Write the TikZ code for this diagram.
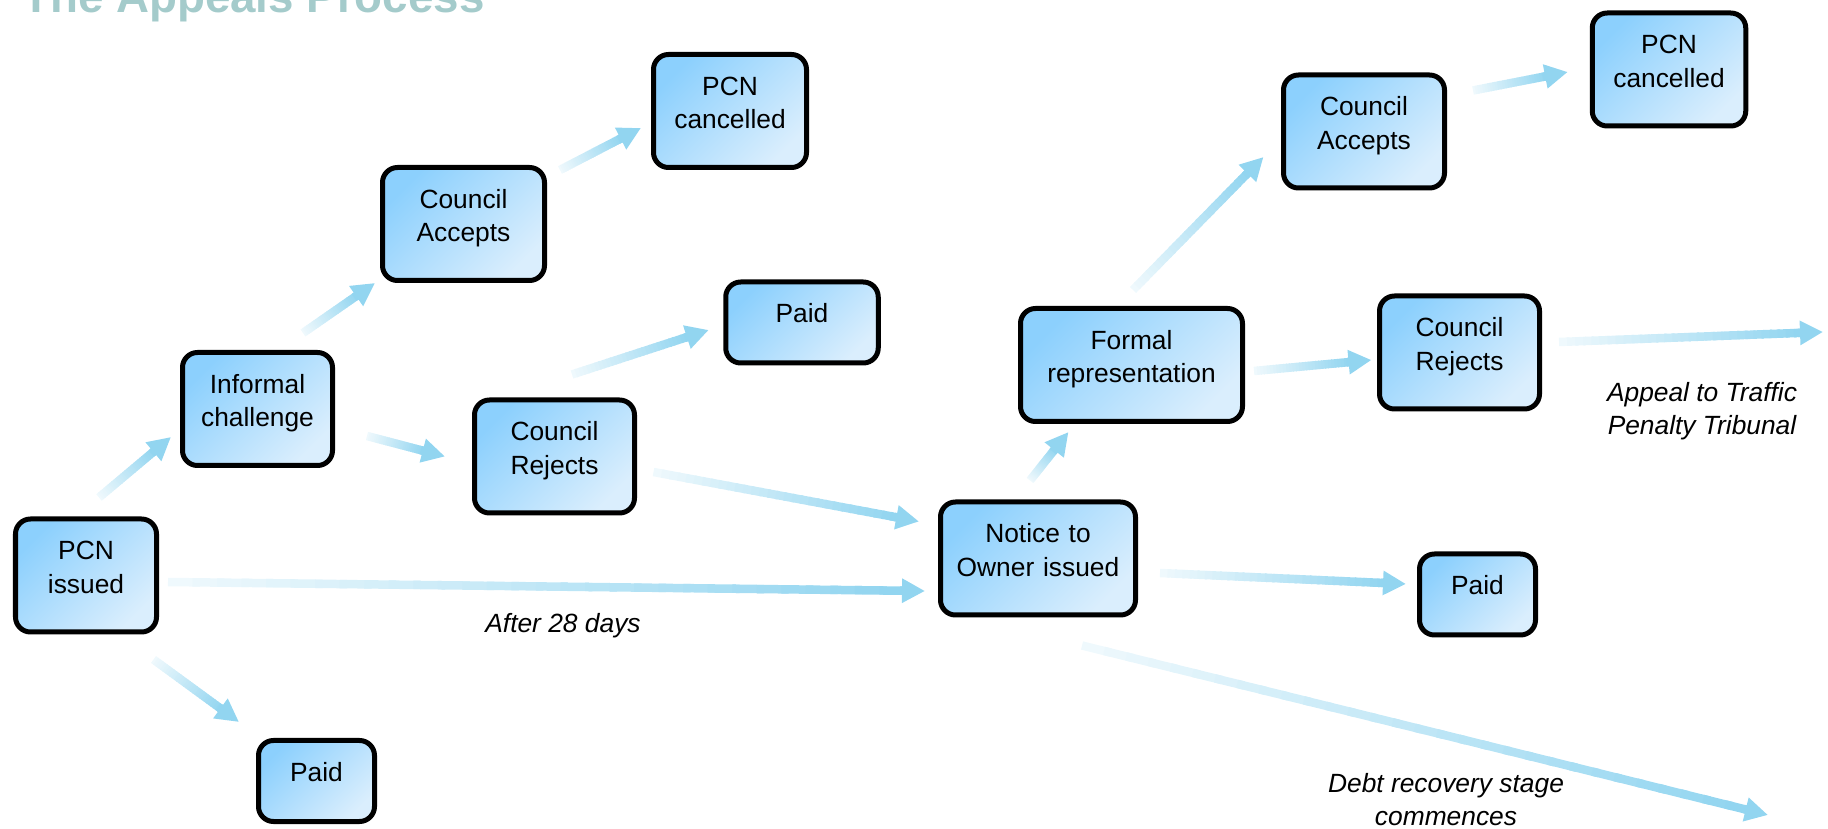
\documentclass[tikz,border=0pt]{standalone}
\usepackage{fontspec}
\setmainfont{Liberation Sans}
\usetikzlibrary{calc,arrows.meta}

\definecolor{boxdark}{RGB}{140,208,253}
\definecolor{boxlight}{RGB}{218,238,253}
\definecolor{arrowblue}{RGB}{146,213,240}
\definecolor{arrowpale}{RGB}{242,250,253}
\definecolor{titleteal}{RGB}{164,203,203}

\tikzset{
  stage/.style={draw, line width=0.1cm, rounded corners=0.3cm,
    top color=boxdark, bottom color=boxlight, shading angle=45,
    align=center, font=\fontsize{15}{18.8}\selectfont,
    inner xsep=0.1cm, inner ysep=0.44cm, text height=0.38cm, text depth=1cm},
  low/.style={text depth=0.36cm},
  note/.style={font=\fontsize{15}{18.8}\selectfont\itshape, align=center, inner sep=0},
  shaft/.style={line width=0.17cm},
}

% arrow that fades in from pale to blue
\newcommand{\fadearrow}[2]{%
  \coordinate (fa-s) at (#1);
  \coordinate (fa-e) at (#2);
  \coordinate (fa-b) at ($(fa-e)!0.42cm!(fa-s)$);
  \foreach \k in {1,...,30}{%
    \pgfmathsetmacro{\ta}{(\k-1)/30}%
    \pgfmathsetmacro{\tb}{min(\k/30+0.01,1)}%
    \pgfmathtruncatemacro{\mix}{round(100*\k/30)}%
    \draw[shaft, draw=arrowblue!\mix!arrowpale] ($(fa-s)!\ta!(fa-b)$) -- ($(fa-s)!\tb!(fa-b)$);
  }%
  \draw[shaft, draw=arrowblue, -{Triangle[length=0.46cm,width=0.46cm]}] ($(fa-e)!0.5cm!(fa-s)$) -- (fa-e);
}

\begin{document}
\begin{tikzpicture}
  \useasboundingbox (0,0) rectangle (36.56,-16.58);
  \clip (0,0) rectangle (36.56,-16.58);

  \node [anchor=base west, inner sep=0, text=titleteal, font=\fontsize{26}{30}\selectfont\bfseries] (heading) at (0.44,-0.26) {The Appeals Process};

  % first stage
  \node [stage, text width=2.62cm] (issued) at (1.72,-11.51) {PCN\\issued};
  \node [stage, low, text width=2.12cm] (paidA) at (6.33,-15.62) {Paid};
  \node [stage, text width=2.8cm] (informal) at (5.15,-8.18) {Informal\\challenge};
  \node [stage, text width=3.04cm] (acceptA) at (9.27,-4.48) {Council\\Accepts};
  \node [stage, text width=2.86cm] (cancelA) at (14.6,-2.22) {PCN\\cancelled};
  \node [stage, low, text width=2.85cm] (paidB) at (16.04,-6.45) {Paid};
  \node [stage, text width=3.0cm] (rejectA) at (11.09,-9.13) {Council\\Rejects};

  % second stage
  \node [stage, text width=3.7cm] (notice) at (20.76,-11.17) {Notice to\\Owner issued};
  \node [stage, text width=4.24cm] (formal) at (22.63,-7.3) {Formal\\representation};
  \node [stage, text width=3.02cm] (acceptB) at (27.28,-2.63) {Council\\Accepts};
  \node [stage, text width=2.87cm] (cancelB) at (33.38,-1.39) {PCN\\cancelled};
  \node [stage, text width=3.0cm] (rejectB) at (29.19,-7.05) {Council\\Rejects};
  \node [stage, low, text width=2.12cm] (paidC) at (29.55,-11.89) {Paid};

  \node [note, anchor=base] (wait) at (11.26,-12.66) {After 28 days};
  \node [note, anchor=north] (appeal) at (34.04,-7.65) {Appeal to Traffic\\Penalty Tribunal};
  \node [note, anchor=north] (recovery) at (28.92,-15.47) {Debt recovery stage\\commences};

  \coordinate (tptend) at (36.46,-6.64);
  \coordinate (debtend) at (35.36,-16.3);

  \fadearrow{[xshift=0.26cm,yshift=0.38cm]issued.north}{[xshift=-0.18cm,yshift=0.62cm]informal.south west}
  \fadearrow{[xshift=-0.11cm,yshift=-0.5cm]issued.south east}{[xshift=-0.34cm,yshift=0.32cm]paidA.north west}
  \fadearrow{[xshift=0.18cm,yshift=-0.13cm]issued.east}{[xshift=-0.26cm,yshift=-0.65cm]notice.west}
  \fadearrow{[xshift=0.91cm,yshift=0.34cm]informal.north}{[xshift=-0.1cm]acceptA.south west}
  \fadearrow{[xshift=0.64cm,yshift=-0.54cm]informal.east}{[xshift=-0.54cm]rejectA.west}
  \fadearrow{[xshift=0.26cm,yshift=-0.1cm]acceptA.north east}{[xshift=-0.2cm,yshift=-0.34cm]cancelA.west}
  \fadearrow{[xshift=0.35cm,yshift=0.46cm]rejectA.north}{[xshift=-0.29cm,yshift=-0.15cm]paidB.west}
  \fadearrow{[xshift=0.33cm,yshift=-0.31cm]rejectA.east}{[xshift=-0.38cm,yshift=-0.44cm]notice.north west}
  \fadearrow{[xshift=-0.16cm,yshift=0.38cm]notice.north}{[xshift=-1.26cm,yshift=-0.16cm]formal.south}
  \fadearrow{[xshift=0.03cm,yshift=0.32cm]formal.north}{[xshift=-0.35cm,yshift=-0.51cm]acceptB.west}
  \fadearrow{[xshift=0.52cm,yshift=-0.36cm]acceptB.north east}{[xshift=-0.44cm,yshift=-0.05cm]cancelB.west}
  \fadearrow{[xshift=0.18cm,yshift=-0.12cm]formal.east}{[xshift=-0.11cm,yshift=-0.15cm]rejectB.west}
  \fadearrow{[xshift=0.34cm,yshift=0.21cm]rejectB.east}{tptend}
  \fadearrow{[xshift=0.44cm,yshift=-0.29cm]notice.east}{[xshift=-0.22cm,yshift=0.21cm]paidC.west}
  \fadearrow{[xshift=0.88cm,yshift=-0.56cm]notice.south}{debtend}
\end{tikzpicture}
\end{document}
